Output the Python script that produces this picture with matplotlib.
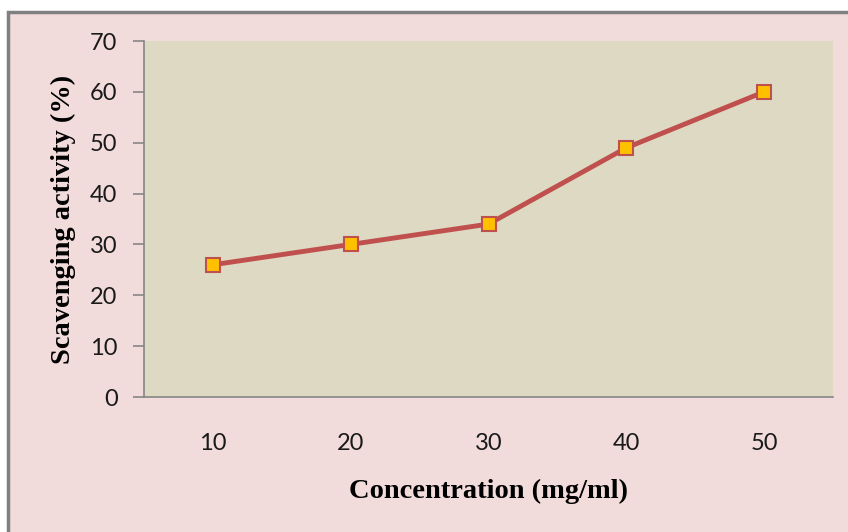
import numpy as np
import matplotlib.pyplot as plt
from matplotlib.patches import Rectangle

# data
concentration = ['10', '20', '30', '40', '50']
scavenging = [26, 30, 34, 49, 60]
y_ticks = [0, 10, 20, 30, 40, 50, 60, 70]

fig = plt.figure(figsize=(8.48, 5.32), dpi=100)
fig.patch.set_facecolor('white')

# pink chart area with grey frame (only top and left edges fall inside the image)
W, H = 848, 532
bg = Rectangle((8 / W, -0.05), 1.1, 1.05 - 12 / H, transform=fig.transFigure,
               facecolor='#F2DCDB', edgecolor='#808080', linewidth=2.5, zorder=-1)
fig.patches.append(bg)

ax = fig.add_axes([144 / W, 1 - 397 / H, (833 - 144) / W, (397 - 41) / H])
ax.set_facecolor('#DDD9C3')

x = np.arange(len(concentration))
ax.plot(x, scavenging, color='#C0504D', linewidth=3.5, marker='s', markersize=10,
        markerfacecolor='#FFC000', markeredgecolor='#C0504D', markeredgewidth=1.5,
        solid_capstyle='round', zorder=3)

ax.set_xlim(-0.5, len(concentration) - 0.5)
ax.set_ylim(0, 70)
ax.set_yticks(y_ticks)
ax.set_xticks(x)
ax.set_xticklabels(concentration)

for side in ['top', 'right']:
    ax.spines[side].set_visible(False)
for side in ['left', 'bottom']:
    ax.spines[side].set_color('#868686')
    ax.spines[side].set_linewidth(1.2)

ax.tick_params(axis='y', direction='out', length=8, width=1.2, color='#868686',
               labelsize=17, labelcolor='#1a1a1a', pad=11)
ax.tick_params(axis='x', length=0, labelsize=17, labelcolor='#1a1a1a', pad=26)
for lab in ax.get_xticklabels() + ax.get_yticklabels():
    lab.set_family('Lato')

ax.set_xlabel('Concentration (mg/ml)', family='Liberation Serif', fontweight='bold',
              fontsize=20.5, labelpad=18)
ax.set_ylabel('Scavenging activity (%)', family='Liberation Serif', fontweight='bold',
              fontsize=20.5, labelpad=10)

fig.savefig('out.png', dpi=100)
